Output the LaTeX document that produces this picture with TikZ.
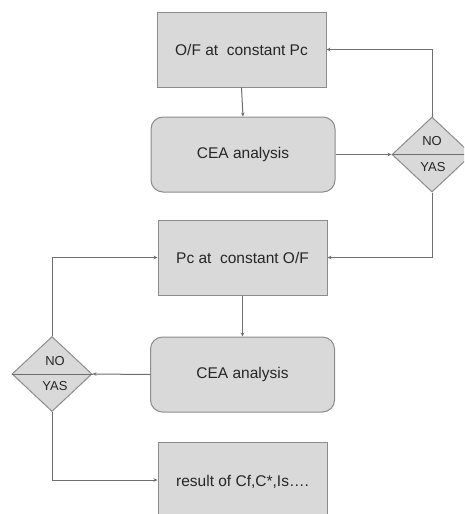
\documentclass[tikz,border=0pt]{standalone}
\usepackage{fontspec}
\setmainfont{Liberation Sans}
\usetikzlibrary{shapes.geometric,arrows.meta}
\definecolor{boxfill}{HTML}{D9D9D9}
\definecolor{boxline}{HTML}{8C8C8C}
\definecolor{txt}{HTML}{262626}
\definecolor{wire}{HTML}{6E6E6E}
\tikzset{
  box/.style={draw=boxline, fill=boxfill, line width=1pt, minimum width=169pt, minimum height=75pt, inner sep=0pt, font=\fontsize{15.5}{18}\selectfont, text=txt},
  rbox/.style={box, rounded corners=12pt, minimum width=184pt},
  dec/.style={draw=boxline, fill=boxfill, line width=1pt, shape=diamond, minimum width=80pt, minimum height=75pt, inner sep=0pt},
  lab/.style={font=\fontsize{13}{15}\selectfont, text=txt, inner sep=0pt},
  wireline/.style={draw=wire, line width=1pt},
  arr/.style={wireline, -{Stealth[length=4pt,width=3.5pt]}},
}
\begin{document}
\begin{tikzpicture}[x=1pt,y=-1pt]
\useasboundingbox (0,0) rectangle (464,514);
\clip (0,0) rectangle (464,514);
\node[box] (of) at (241.5,49.5) {O/F at\ \ constant Pc};
\node[rbox] (cea1) at (243,154.5) {CEA analysis};
\node[dec] (d1) at (432,154.5) {};
\draw[wireline] (d1.west) -- (d1.east);
\node[lab] (no1) at (432,141.5) {NO};
\node[lab] (yas1) at (433,167) {YAS};
\node[box] (pc) at (242.5,257.5) {Pc at\ \ constant O/F};
\node[rbox] (cea2) at (242.5,374.5) {CEA analysis};
\node[dec] (d2) at (52,374) {};
\draw[wireline] (d2.west) -- (d2.east);
\node[lab] (no2) at (55,361.5) {NO};
\node[lab] (yas2) at (55,386) {YAS};
\node[box, minimum height=80pt] (res) at (242.5,482) {result of Cf,C*,Is….};
\coordinate (c1) at (432,49.5);
\coordinate (c2) at (432,257.5);
\coordinate (c3) at (52,257.5);
\coordinate (c4) at (52,480);
\draw[arr] (of.south) -- (cea1.north);
\draw[arr] (cea1.east) -- (d1.west);
\draw[arr] (d1.north) -- (c1) -- (of.east);
\draw[arr] (d1.south) -- (c2) -- (pc.east);
\draw[arr] (pc.south) -- (cea2.north);
\draw[arr] (cea2.west) -- (d2.east);
\draw[arr] (d2.north) -- (c3) -- (pc.west);
\draw[arr] (d2.south) -- (c4) -- (res.west |- c4);
\end{tikzpicture}
\end{document}
